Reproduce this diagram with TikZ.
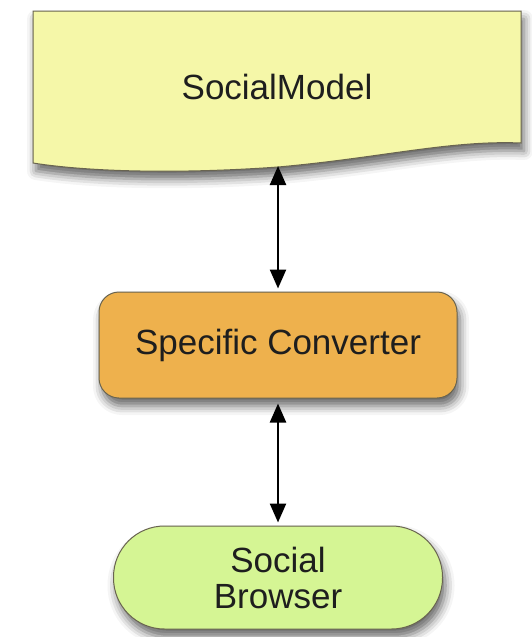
\documentclass[tikz,border=0pt]{standalone}
\usepackage{fontspec}
\setmainfont{Liberation Sans}
\usetikzlibrary{positioning, arrows.meta, shadows.blur}

\definecolor{modelfill}{RGB}{245,247,168}
\definecolor{convfill}{RGB}{238,177,77}
\definecolor{browfill}{RGB}{213,245,148}
\definecolor{edgegray}{RGB}{105,100,80}
\definecolor{txtdark}{RGB}{30,30,30}

\begin{document}
\begin{tikzpicture}[
    x = 1pt, y = -1pt,
    softshadow/.style = {
      blur shadow = {shadow xshift = 3pt, shadow yshift = -8pt,
                     shadow blur radius = 9pt, shadow opacity = 60}
    },
    label/.style = {
      font = \fontsize{35}{36}\selectfont, text = txtdark, align = center
    },
    convbox/.style = {
      rectangle, draw = edgegray, line width = 1pt, rounded corners = 20pt,
      minimum width = 358pt, minimum height = 106pt,
      fill = convfill, softshadow, label
    },
    termbox/.style = {
      rectangle, draw = edgegray, line width = 1pt, rounded corners = 51pt,
      minimum width = 329pt, minimum height = 103pt,
      fill = browfill, softshadow, label
    },
    arr/.style = {{Triangle[length=19pt, width=16pt]}-{Triangle[length=19pt, width=16pt]},
                  line width = 2.4pt, black}
  ]

  \useasboundingbox (0,0) rectangle (531,637);

  % Document with a wavy lower edge
  \path[fill = modelfill, draw = edgegray, line width = 1pt, softshadow]
    (33,11) -- (521,11) -- (521,143)
    .. controls (450,140) and (380,158) .. (278,167)
    .. controls (180,174) and (90,172) .. (33,163) -- cycle;
  \node[label] (model) at (277,87) {SocialModel};
  \coordinate (modelfoot) at (278,166);

  % Converter and browser
  \node[convbox] (conv) at (278,345) {Specific Converter};
  \node[termbox, below = 127pt of conv] (brow) {Social\\Browser};

  % Two-way links
  \draw[arr] (modelfoot) -- ([yshift=3pt]conv.north);
  \draw[arr] ([yshift=-5pt]conv.south) -- ([yshift=3pt]brow.north);

\end{tikzpicture}
\end{document}
